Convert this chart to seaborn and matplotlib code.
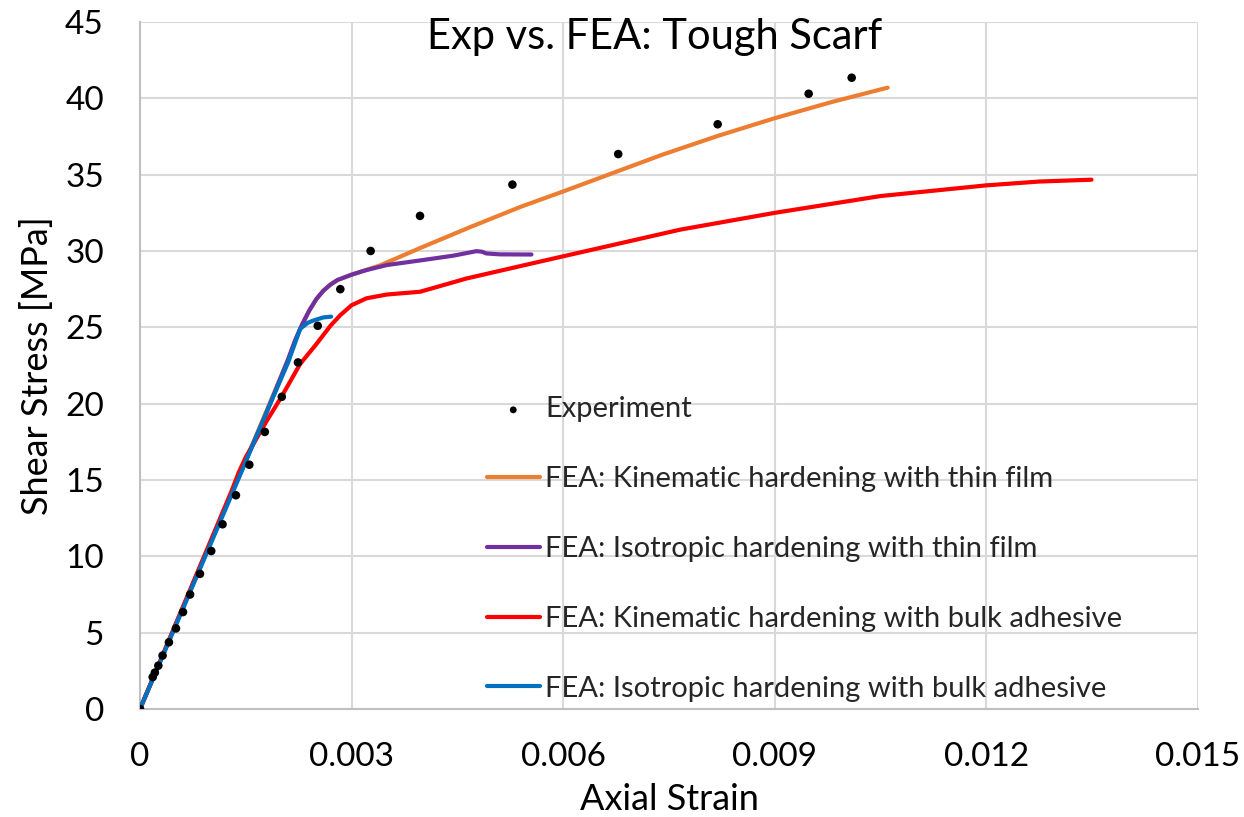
import numpy as np
import pandas as pd
import matplotlib
matplotlib.use("Agg")
import matplotlib.pyplot as plt
import seaborn as sns

# Measured shear response of the tough scarf joint
exp_strain = [0, 0.00018, 0.00021, 0.00026, 0.00032, 0.00041, 0.00051, 0.00061, 0.00071,
              0.00085, 0.00101, 0.00117, 0.00136, 0.00155, 0.00177, 0.00201, 0.00224,
              0.00252, 0.00284, 0.00327, 0.00397, 0.00528, 0.00678, 0.00819, 0.00948, 0.01009]
exp_stress = [0, 2.09, 2.38, 2.84, 3.5, 4.37, 5.28, 6.35, 7.5,
              8.85, 10.35, 12.1, 14.0, 16.0, 18.15, 20.45, 22.7,
              25.1, 27.5, 30.0, 32.3, 34.35, 36.35, 38.3, 40.3, 41.35]

# FEA: kinematic hardening, thin film
kin_film_strain = [0, 0.0005, 0.001, 0.0015, 0.0018, 0.0021, 0.0022, 0.0023, 0.0024, 0.0025,
                   0.0026, 0.0027, 0.0028, 0.0030, 0.0032, 0.0034, 0.0040, 0.0047, 0.0054,
                   0.0060, 0.0067, 0.0074, 0.0082, 0.0090, 0.0098, 0.0106]
kin_film_stress = [0, 5.45, 10.9, 16.3, 19.6, 22.9, 24.15, 25.2, 26.1, 26.85,
                   27.4, 27.8, 28.1, 28.45, 28.75, 29.05, 30.25, 31.6, 32.9,
                   33.9, 35.1, 36.3, 37.55, 38.7, 39.75, 40.7]

# FEA: isotropic hardening, thin film
iso_film_strain = [0, 0.0005, 0.001, 0.0015, 0.00175, 0.0021, 0.0022, 0.0023, 0.0024, 0.0025,
                   0.0026, 0.0027, 0.0028, 0.0030, 0.00321, 0.0035, 0.0040, 0.00445, 0.00477,
                   0.00485, 0.00491, 0.0051, 0.00555]
iso_film_stress = [0, 5.45, 10.9, 16.3, 18.9, 22.9, 24.15, 25.2, 26.1, 26.85,
                   27.4, 27.8, 28.1, 28.45, 28.75, 29.08, 29.4, 29.7, 29.99,
                   29.95, 29.84, 29.78, 29.77]

# FEA: kinematic hardening, bulk adhesive
kin_bulk_strain = [0, 0.0005, 0.001, 0.0013, 0.0014, 0.0015, 0.0016, 0.0017, 0.0018, 0.002,
                   0.00227, 0.0025, 0.0027, 0.00284, 0.003, 0.00321, 0.0035, 0.00397,
                   0.00463, 0.00557, 0.00652, 0.00766, 0.009, 0.0105, 0.012, 0.01275, 0.01349]
kin_bulk_stress = [0, 5.5, 11.0, 14.3, 15.5, 16.5, 17.3, 18.1, 18.9, 20.4,
                   22.6, 23.9, 25.1, 25.8, 26.45, 26.9, 27.15, 27.33,
                   28.2, 29.2, 30.2, 31.4, 32.5, 33.6, 34.3, 34.55, 34.67]

# FEA: isotropic hardening, bulk adhesive
iso_bulk_strain = [0, 0.0005, 0.001, 0.0015, 0.0018, 0.0021, 0.00227, 0.00238, 0.00246,
                   0.0026, 0.00271]
iso_bulk_stress = [0, 5.4, 10.8, 16.2, 19.5, 22.7, 24.9, 25.3, 25.45, 25.65, 25.7]

labels = ["Experiment",
          "FEA: Kinematic hardening with thin film",
          "FEA: Isotropic hardening with thin film",
          "FEA: Kinematic hardening with bulk adhesive",
          "FEA: Isotropic hardening with bulk adhesive"]
colors = ["#000000", "#ED7D31", "#7030A0", "#FF0000", "#0070C0"]

x_ticks = [0, 0.003, 0.006, 0.009, 0.012, 0.015]
x_tick_labels = ["0", "0.003", "0.006", "0.009", "0.012", "0.015"]
y_ticks = [0, 5, 10, 15, 20, 25, 30, 35, 40, 45]

sns.set_theme(style="white")
plt.rcParams["font.family"] = ["Lato", "DejaVu Sans"]

W, H = 1244, 817
fig = plt.figure(figsize=(W / 100, H / 100), dpi=100)
ax = fig.add_axes([140 / W, 1 - 709 / H, 1058 / W, 687 / H])

curves = [
    (kin_film_strain, kin_film_stress),
    (iso_film_strain, iso_film_stress),
    (kin_bulk_strain, kin_bulk_stress),
    (iso_bulk_strain, iso_bulk_stress),
]
for (xs, ys), lab, col in zip(curves, labels[1:], colors[1:]):
    df = pd.DataFrame({"strain": xs, "stress": ys})
    sns.lineplot(data=df, x="strain", y="stress", ax=ax, color=col, lw=3.0,
                 sort=False, estimator=None, label=lab, zorder=3,
                 solid_capstyle="round", solid_joinstyle="round")

exp_df = pd.DataFrame({"strain": exp_strain, "stress": exp_stress})
sns.scatterplot(data=exp_df, x="strain", y="stress", ax=ax, color="black", s=38,
                edgecolor="none", label=labels[0], zorder=4)

ax.set_xlim(0, 0.015)
ax.set_ylim(0, 45)
ax.set_xticks(x_ticks)
ax.set_xticklabels(x_tick_labels)
ax.set_yticks(y_ticks)
ax.tick_params(axis="both", length=0, labelsize=24, colors="black")
ax.tick_params(axis="x", pad=24)
ax.tick_params(axis="y", pad=26)
ax.grid(True, color="#D9D9D9", lw=1.5, zorder=0)
ax.set_axisbelow(True)
for side in ["top", "right"]:
    ax.spines[side].set_visible(False)
for side in ["left", "bottom"]:
    ax.spines[side].set_color("#BFBFBF")
    ax.spines[side].set_linewidth(1.5)

ax.set_xlabel("Axial Strain", fontsize=26, color="black", labelpad=8)
ax.set_ylabel("Shear Stress [MPa]", fontsize=26, color="black", labelpad=8)

fig.text(655 / W, 1 - 37 / H, "Exp vs. FEA: Tough Scarf", fontsize=30,
         ha="center", va="center", color="black")

handles, labs = ax.get_legend_handles_labels()
order = [labs.index(l) for l in labels]
leg = ax.legend([handles[i] for i in order], [labs[i] for i in order],
                loc="center left", bbox_to_anchor=(487 / W, 1 - 549 / H),
                bbox_transform=fig.transFigure, frameon=False, fontsize=21,
                labelspacing=1.5, handlelength=1.8, handletextpad=0.2,
                borderpad=0, borderaxespad=0, markerscale=0.8)

fig.savefig("out.png", dpi=100)
